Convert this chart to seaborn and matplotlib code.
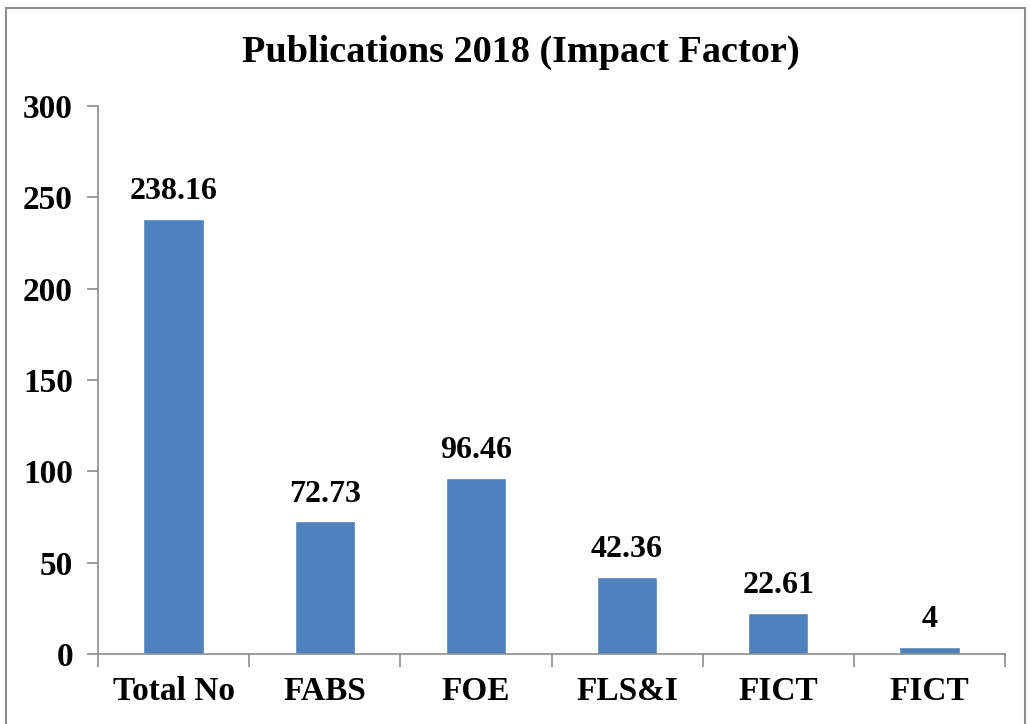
import matplotlib
matplotlib.use("Agg")
import matplotlib.pyplot as plt
import seaborn as sns
import pandas as pd
from matplotlib.patches import Rectangle

categories = ["Total No", "FABS", "FOE", "FLS&I", "FICT", "FICT"]
values = [238.16, 72.73, 96.46, 42.36, 22.61, 4]
value_labels = ["238.16", "72.73", "96.46", "42.36", "22.61", "4"]
yticks = [0, 50, 100, 150, 200, 250, 300]

sns.set_theme(style="white")
plt.rcParams['font.family'] = ['Liberation Serif', 'DejaVu Serif']
plt.rcParams['text.color'] = 'black'
plt.rcParams['xtick.labelcolor'] = 'black'
plt.rcParams['ytick.labelcolor'] = 'black'

df = pd.DataFrame({"key": [str(i) for i in range(len(categories))], "value": values})

fig = plt.figure(figsize=(10.30, 7.24), dpi=100)
ax = fig.add_axes([98/1030, 70/724, 907/1030, 548/724])

sns.barplot(data=df, x="key", y="value", color="#4F81BD", saturation=1, width=0.4, ax=ax)

ax.set_ylim(0, 300)
ax.set_xlim(-0.5, len(categories) - 0.5)
ax.set_yticks(yticks)
ax.set_yticklabels([str(t) for t in yticks], fontsize=24, fontweight="bold", color="black")
ax.set_xticks([i - 0.5 for i in range(len(categories) + 1)])
ax.set_xticklabels([])
ax.set_xticks(list(range(len(categories))), minor=True)
ax.set_xticklabels(categories, minor=True, fontsize=24, fontweight="bold", color="black")
ax.tick_params(axis="x", which="minor", length=0, pad=16)
ax.tick_params(axis="x", which="major", length=9, width=1.2, color="#8c8c8c", direction="out", bottom=True)
ax.tick_params(axis="y", length=8, width=1.2, color="#8c8c8c", direction="out", left=True, pad=10)
ax.set_xlabel("")
ax.set_ylabel("")

for s in ["top", "right"]:
    ax.spines[s].set_visible(False)
for s in ["left", "bottom"]:
    ax.spines[s].set_color("#8c8c8c")
    ax.spines[s].set_linewidth(1.2)

for i, (v, lab) in enumerate(zip(values, value_labels)):
    ax.annotate(lab, (i, v), xytext=(0, 9), textcoords="offset points",
                ha="center", va="bottom", fontsize=23, fontweight="bold", color="black")

fig.text(521/1030, 1 - 52/724, "Publications 2018 (Impact Factor)", ha="center", va="center",
         fontsize=27.5, fontweight="bold", color="black")

fig.patches.append(Rectangle((6/1030, -0.05), 1019/1030, 1.05 - 8/724, transform=fig.transFigure,
                             fill=False, edgecolor="#8c8c8c", linewidth=1.5))

fig.savefig("out.png", dpi=100)
